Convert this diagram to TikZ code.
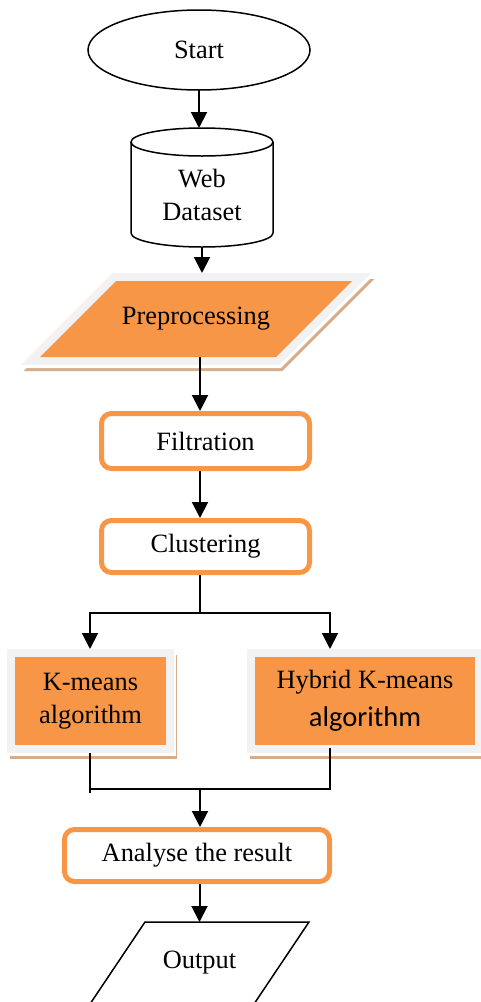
\documentclass[tikz,border=0pt]{standalone}
\usepackage{fontspec}
\setmainfont{Liberation Serif}
\newfontfamily\calibri{Carlito}
\usetikzlibrary{shapes,arrows.meta,backgrounds}
\definecolor{boxorange}{RGB}{247,150,70}
\definecolor{bandgrey}{RGB}{242,242,242}
\definecolor{shadowtan}{RGB}{214,172,138}
\tikzset{%
	base/.style     = {font=\fontsize{26.4}{33}\selectfont, align=center,
		inner sep=0pt, outer sep=0pt},
	terminal/.style = {base, draw, ellipse, line width=1.5pt}, % Start
	store/.style    = {base, rectangle}, % Database
	process/.style  = {base, rectangle, draw=boxorange, fill=white,
		line width=5pt, rounded corners=10pt, outer sep=2.5pt},
	framed/.style   = {fill=boxorange,
		preaction={draw=shadowtan, fill=shadowtan, line width=16pt,
			transform canvas={shift={(3pt,-6pt)}}},
		preaction={draw=white, line width=16pt,
			transform canvas={shift={(1.5pt,-3pt)}}},
		preaction={draw=bandgrey, line width=16pt}},
	framedbox/.style = {base, rectangle, framed},
	io/.style       = {base, rectangle}, % Output
	line/.style     = {line width=2pt},
	arrow/.style    = {line, -{Triangle[length=16pt,width=16pt]}}
}

\begin{document}
\begin{tikzpicture}[x=1pt, y=-1pt]
	\useasboundingbox (0,0) rectangle (481,1002);

	\node[terminal, minimum width=222pt, minimum height=80pt] (start) at (199,50) {Start};
	\node[store, minimum width=142pt, minimum height=105pt] (data) at (202,194.5) {Web\\Dataset};
	\draw[line width=1.5pt] (data.north) ellipse [x radius=71pt, y radius=14pt];
	\draw[line width=1.5pt] (data.north west) -- ([yshift=14pt]data.south west)
		arc [start angle=180, end angle=360, x radius=71pt, y radius=14pt] -- (data.north east);

	\node[base, minimum width=236pt, minimum height=76pt] (prep) at (196,319) {Preprocessing};
	\begin{scope}[on background layer]
		\path[framed] ([xshift=-38pt]prep.south west) -- ([xshift=38pt]prep.north west)
			-- ([xshift=38pt]prep.north east) -- ([xshift=-38pt]prep.south east) -- cycle;
	\end{scope}

	\node[process, minimum width=208pt, minimum height=55pt] (filt) at (205.5,441) {Filtration};
	\node[process, minimum width=208pt, minimum height=52pt] (clus) at (205.5,546.5) {Clustering};

	\node[framedbox, minimum width=151pt, minimum height=88pt] (kmeans) at (90.5,701) {K-means\\algorithm};
	\node[framedbox, minimum width=220pt, minimum height=88pt] (hybrid) at (365,701)
		{Hybrid K-means\\[5pt]{\calibri\fontsize{28.5}{34}\selectfont algorithm}};

	\node[process, minimum width=265pt, minimum height=52pt] (analyse) at (197,855.5) {Analyse the result};
	\node[io, minimum width=164pt, minimum height=82pt] (out) at (199.5,963) {Output};
	\draw[line width=1.5pt] ([xshift=-27.5pt]out.south west) -- ([xshift=27.5pt]out.north west)
		-- ([xshift=27.5pt]out.north east) -- ([xshift=-27.5pt]out.south east) -- cycle;

	% connector ends
	\coordinate (dtop) at ([yshift=14pt]data.north);
	\coordinate (ptop) at ([yshift=8pt]prep.north);
	\coordinate (split) at (200,613);
	\coordinate (ktop) at (90,649);
	\coordinate (htop) at (330,649);
	\coordinate (kend) at (90,793);
	\coordinate (hstart) at (330,748);
	\coordinate (join) at (200,789);

	\draw[arrow] (start.south) -- (start.south |- dtop);
	\draw[arrow] (data.south) -- (data.south |- ptop);
	\draw[arrow] (prep.south -| split) -- (filt.north -| split);
	\draw[arrow] (filt.south -| split) -- (clus.north -| split);
	\draw[line] (clus.south -| split) -- (split);
	\draw[arrow] (split) -| (ktop);
	\draw[arrow] (split) -| (htop);
	\draw[line] ([yshift=-8pt]kmeans.south -| kend) -- (kend);
	\draw[line] (hstart) |- (join) -- (kend |- join);
	\draw[arrow] (join) -- (join |- analyse.north);
	\draw[arrow] (analyse.south -| out.north) -- (out.north);
\end{tikzpicture}
\end{document}
